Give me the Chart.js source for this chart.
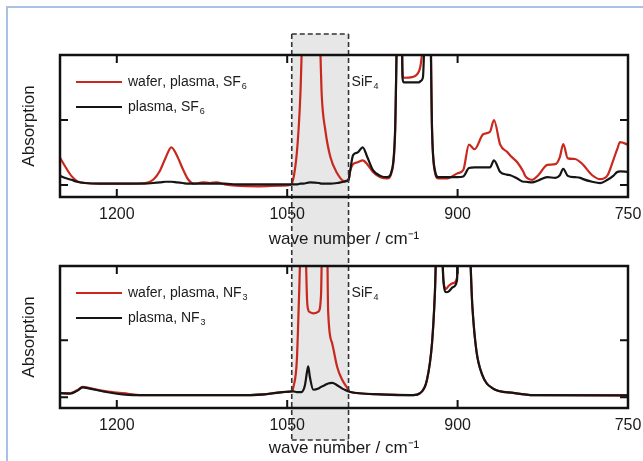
<!DOCTYPE html>
<html><head><meta charset="utf-8">
<script src="https://cdn.jsdelivr.net/npm/chart.js@4.4.1/dist/chart.umd.min.js"></script>
<style>
html,body{margin:0;padding:0;background:#fff;}
#wrap{position:relative;width:643px;height:461px;overflow:hidden;background:#fff;}
#c1{position:absolute;left:0;top:0;}
#c2{position:absolute;left:0;top:250px;}
#frame{position:absolute;left:6px;top:6px;width:700px;height:600px;border-left:2px solid #a9c1e6;border-top:2px solid #a9c1e6;}
</style></head><body>
<div id="wrap">
<div id="frame"></div>
<canvas id="c1" width="643" height="250"></canvas>
<canvas id="c2" width="643" height="211"></canvas>
</div>
<script>
// ---------- data ----------
const xTickValues = [1200, 1050, 900, 750];
const yTickValues = [0, 1];
const sif4Band = [1046, 996];
const xTitle = 'wave number / cm\u207B\u00B9';
const yTitle = 'Absorption';

const sf6Labels = ['wafer, plasma, SF\u2086', 'plasma, SF\u2086'];
const sf6Wavenumber = [1250,1246,1240,1235,1228,1215,1190,1175,1168,1162,1157,1152,1147,1142,1137,1132,1124,1118,1112,1105,1095,1075,1055,1047,1044,1041,1038.5,1036,1030,1022,1019.5,1016.5,1012,1006,1000,996,994.5,992,988,983.5,979.5,974.5,968,962,958,955,953,949.5,948.5,947.5,940,934,932.5,930.5,928.5,924.5,922.5,920,917,909,900,895,890,885,877.5,871.5,868,862.5,856.5,853.5,847.5,842,840.5,834.5,829,821,814,810,807,803,796.5,792,789.5,781.5,774.5,768,763,759.5,757,750];
const sf6WaferPlasma = [0.42,0.30,0.14,0.06,0.03,0.02,0.02,0.03,0.08,0.22,0.42,0.58,0.45,0.25,0.08,0.02,0.04,0.03,0.04,0.01,-0.01,-0.02,-0.01,0.00,0.15,0.60,1.35,2.60,3.00,2.60,1.35,0.85,0.43,0.18,0.06,0.08,0.22,0.32,0.35,0.38,0.32,0.20,0.12,0.10,0.20,0.80,2.60,3.00,1.75,1.65,1.66,1.75,1.85,2.20,3.00,3.00,0.85,0.20,0.10,0.10,0.18,0.23,0.62,0.55,0.78,0.82,1.00,0.62,0.51,0.45,0.35,0.20,0.14,0.08,0.15,0.31,0.32,0.43,0.63,0.41,0.40,0.35,0.31,0.15,0.09,0.15,0.38,0.55,0.66,0.62];
const sf6Plasma = [0.14,0.11,0.08,0.05,0.03,0.02,0.02,0.02,0.03,0.04,0.05,0.05,0.04,0.03,0.02,0.02,0.02,0.02,0.02,0.02,0.01,0.01,0.01,0.01,0.01,0.01,0.02,0.02,0.04,0.03,0.02,0.02,0.02,0.03,0.05,0.08,0.23,0.46,0.50,0.58,0.43,0.23,0.14,0.12,0.22,0.85,2.60,3.00,1.65,1.58,1.58,1.58,1.60,1.66,2.60,3.00,0.85,0.23,0.12,0.12,0.12,0.13,0.26,0.27,0.27,0.27,0.38,0.20,0.16,0.15,0.10,0.05,0.05,0.04,0.07,0.12,0.11,0.15,0.25,0.14,0.12,0.11,0.09,0.05,0.03,0.08,0.14,0.20,0.21,0.20];

const nf3Labels = ['wafer, plasma, NF\u2083', 'plasma, NF\u2083'];
const nf3Wavenumber = [1250,1241,1235,1230,1224,1212,1200,1190,1180,1100,1070,1054,1046,1044.5,1041.5,1039.5,1037.5,1034.5,1032.5,1031.5,1030,1027,1022.5,1020.2,1019,1015,1014,1010.5,1006,1001.5,997,994.5,968,939,933,927,922.5,920,918,914.5,912.5,910,908,904,900.5,899.5,890.5,887,883.5,878.5,869.5,851,833,750];
const nf3WaferPlasma = [0.07,0.07,0.12,0.18,0.16,0.11,0.08,0.06,0.035,0.035,0.05,0.09,0.10,0.18,0.65,1.82,3.00,3.00,1.70,1.53,1.49,1.47,1.50,1.80,3.00,3.00,1.53,0.95,0.53,0.30,0.16,0.09,0.05,0.035,0.07,0.30,0.95,1.82,3.00,3.00,2.05,1.90,1.95,2.00,2.10,3.00,3.00,1.59,0.82,0.40,0.16,0.075,0.035,0.03];
const nf3Plasma = [0.07,0.06,0.11,0.17,0.15,0.10,0.06,0.04,0.035,0.035,0.05,0.09,0.10,0.10,0.09,0.09,0.09,0.20,0.45,0.54,0.35,0.13,0.15,0.18,0.19,0.23,0.24,0.25,0.21,0.15,0.11,0.09,0.05,0.035,0.07,0.30,0.95,1.82,3.00,3.00,2.05,1.84,1.85,1.93,2.05,3.00,3.00,1.59,0.82,0.40,0.16,0.075,0.035,0.03];

// ---------- styles ----------
const RED = '#c8281e', BLACK = '#151515';
const FONT = "'Liberation Sans', Arial, sans-serif";

function drawRich(ctx, text, x, y, size) {
  const sub = {'\u2080':'0','\u2081':'1','\u2082':'2','\u2083':'3','\u2084':'4','\u2085':'5','\u2086':'6','\u2087':'7','\u2088':'8','\u2089':'9'};
  ctx.textBaseline = 'middle';
  ctx.textAlign = 'left';
  let cx = x;
  for (const ch of text) {
    if (sub[ch]) {
      ctx.font = Math.round(size * 0.62) + 'px ' + FONT;
      ctx.fillText(sub[ch], cx + 1, y + size * 0.32);
      cx += ctx.measureText(sub[ch]).width + 1;
    } else {
      ctx.font = size + 'px ' + FONT;
      ctx.fillText(ch, cx, y);
      cx += ctx.measureText(ch).width;
    }
  }
}

const decor = {
  id: 'decor',
  beforeDraw(chart, args, o) {
    const {ctx, chartArea: a, scales: {x}} = chart;
    const x1 = x.getPixelForValue(o.band[0]), x2 = x.getPixelForValue(o.band[1]);
    const top = o.above == null ? 0 : a.top - o.above;
    const bot = o.below == null ? chart.height : a.bottom + o.below;
    ctx.save();
    ctx.fillStyle = '#e7e7e7';
    ctx.fillRect(x1, top, x2 - x1, bot - top);
    ctx.restore();
  },
  afterDatasetsDraw(chart, args, o) {
    const {ctx, chartArea: a, scales: {x, y}} = chart;
    const x1 = x.getPixelForValue(o.band[0]), x2 = x.getPixelForValue(o.band[1]);
    const top = o.above == null ? 0 : a.top - o.above;
    const bot = o.below == null ? chart.height : a.bottom + o.below;
    ctx.save();
    // dashed band outline
    ctx.strokeStyle = '#333';
    ctx.lineWidth = 1.6;
    ctx.setLineDash([5, 3]);
    ctx.beginPath();
    ctx.moveTo(x1, top); ctx.lineTo(x1, bot);
    ctx.moveTo(x2, top); ctx.lineTo(x2, bot);
    if (o.above != null) { ctx.moveTo(x1, top); ctx.lineTo(x2, top); }
    if (o.below != null) { ctx.moveTo(x1, bot); ctx.lineTo(x2, bot); }
    ctx.stroke();
    ctx.setLineDash([]);
    // frame
    ctx.strokeStyle = '#111';
    ctx.lineWidth = 2.5;
    ctx.strokeRect(a.left, a.top, a.right - a.left, a.bottom - a.top);
    // inward ticks
    ctx.lineWidth = 2;
    ctx.beginPath();
    const tl = 8;
    x.ticks.forEach(t => {
      const px = x.getPixelForValue(t.value);
      if (px <= a.left + 2 || px >= a.right - 2) return;
      ctx.moveTo(px, a.top); ctx.lineTo(px, a.top + tl);
      ctx.moveTo(px, a.bottom); ctx.lineTo(px, a.bottom - tl);
    });
    y.ticks.forEach(t => {
      const py = y.getPixelForValue(t.value);
      if (py <= a.top + 2 || py >= a.bottom - 2) return;
      ctx.moveTo(a.left, py); ctx.lineTo(a.left + tl, py);
      ctx.moveTo(a.right, py); ctx.lineTo(a.right - tl, py);
    });
    ctx.stroke();
    // legend
    chart.data.datasets.forEach((ds, i) => {
      const ly = a.top + 27 + i * 25;
      ctx.strokeStyle = ds.borderColor;
      ctx.lineWidth = 2;
      ctx.beginPath();
      ctx.moveTo(a.left + 16, ly); ctx.lineTo(a.left + 62, ly);
      ctx.stroke();
      ctx.fillStyle = '#1a1a1a';
      drawRich(ctx, ds.label, a.left + 68, ly, 14);
    });
    // SiF4 label
    ctx.fillStyle = '#1a1a1a';
    drawRich(ctx, o.label, x2 + 3, a.top + 27, 14);
    ctx.restore();
  }
};

function makePanel(id, wn, waferVals, plasmaVals, labels, yMin, yMax, lay) {
  const canvas = document.getElementById(id);
  return new Chart(canvas, {
    type: 'line',
    data: {
      datasets: [
        { label: labels[0], data: wn.map((w, i) => ({x: w, y: waferVals[i]})), borderColor: RED, order: 1 },
        { label: labels[1], data: wn.map((w, i) => ({x: w, y: plasmaVals[i]})), borderColor: BLACK, order: 0 }
      ]
    },
    options: {
      responsive: false,
      animation: false,
      devicePixelRatio: 1,
      events: [],
      layout: { padding: { left: 0, right: 15, top: lay.top, bottom: 0 } },
      elements: {
        point: { radius: 0 },
        line: { borderWidth: 2.2, fill: false, cubicInterpolationMode: 'monotone' }
      },
      plugins: {
        legend: { display: false },
        tooltip: { enabled: false },
        decor: { band: sif4Band, above: lay.above, below: lay.below, label: 'SiF\u2084' }
      },
      scales: {
        x: {
          type: 'linear', reverse: true, min: 750, max: 1250,
          afterBuildTicks: s => { s.ticks = xTickValues.map(v => ({value: v})); },
          afterFit: s => { s.height = lay.xHeight; s.paddingLeft = 0; s.paddingRight = 0; },
          grid: { display: false, drawTicks: false },
          border: { display: false },
          ticks: { autoSkip: false, maxRotation: 0, padding: 8, color: '#1a1a1a',
                   font: { family: FONT, size: 16 }, callback: v => String(v) },
          title: { display: true, text: xTitle, color: '#1a1a1a',
                   font: { family: FONT, size: 17 }, padding: { top: 0, bottom: lay.xTitlePad } }
        },
        y: {
          type: 'linear', min: yMin, max: yMax,
          afterBuildTicks: s => { s.ticks = yTickValues.map(v => ({value: v})); },
          afterFit: s => { s.width = 60; s.paddingTop = 0; s.paddingBottom = 0; },
          grid: { display: false, drawTicks: false },
          border: { display: false },
          ticks: { display: false },
          title: { display: true, text: yTitle, color: '#1a1a1a',
                   font: { family: FONT, size: 17 }, padding: { top: 19, bottom: 0 } }
        }
      }
    },
    plugins: [decor]
  });
}

makePanel('c1', sf6Wavenumber, sf6WaferPlasma, sf6Plasma, sf6Labels, -0.185, 2.0,
  { top: 55, xHeight: 53, xTitlePad: 0, above: 21, below: null });
makePanel('c2', nf3Wavenumber, nf3WaferPlasma, nf3Plasma, nf3Labels, -0.19, 2.3,
  { top: 16, xHeight: 53, xTitlePad: 2, above: null, below: 32 });
</script>
</body></html>
